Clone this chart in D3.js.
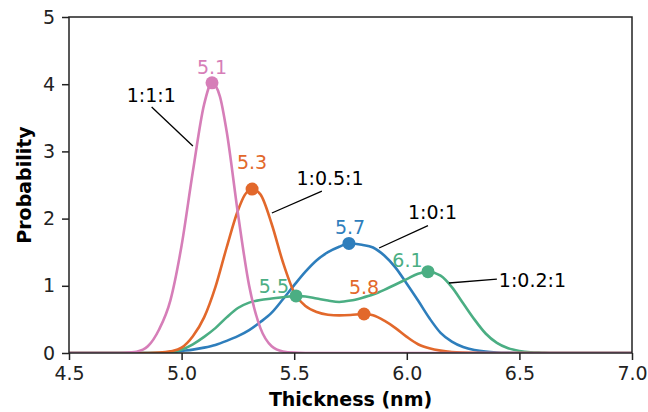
<!DOCTYPE html>
<html>
<head>
<meta charset="utf-8">
<script src="https://cdn.jsdelivr.net/npm/d3@7"></script>
<style>
  html, body { margin: 0; padding: 0; background: #ffffff; }
  svg { display: block; }
  text { font-family: "DejaVu Sans", sans-serif; }
</style>
</head>
<body>
<svg id="chart" width="648" height="412"></svg>
<script>
// ---------------- data ----------------
const xTicks = [4.5, 5.0, 5.5, 6.0, 6.5, 7.0];
const yTicks = [0, 1, 2, 3, 4, 5];

// 1:1:1
const pinkX = [4.5, 4.70, 4.75, 4.80, 4.85, 4.90, 4.95, 5.00, 5.05, 5.10, 5.135, 5.17, 5.20, 5.25, 5.30, 5.35, 5.40, 5.45, 5.50, 5.55, 5.60, 7.0];
const pinkY = [0, 0, 0.004, 0.02, 0.10, 0.35, 0.78, 1.60, 2.70, 3.70, 4.02, 3.82, 3.30, 2.08, 1.00, 0.37, 0.10, 0.023, 0.005, 0.001, 0, 0];

// 1:0.5:1
const orangeX = [4.5, 4.85, 4.90, 4.95, 5.00, 5.05, 5.10, 5.15, 5.20, 5.25, 5.28, 5.313, 5.35, 5.40, 5.45, 5.50, 5.55, 5.60, 5.65, 5.70, 5.75, 5.81, 5.85, 5.90, 5.95, 6.00, 6.05, 6.10, 6.15, 6.20, 6.25, 6.30, 6.35, 7.0];
const orangeY = [0, 0, 0.005, 0.025, 0.08, 0.25, 0.53, 0.98, 1.57, 2.12, 2.35, 2.44, 2.36, 1.92, 1.35, 0.90, 0.70, 0.61, 0.57, 0.56, 0.565, 0.58, 0.56, 0.48, 0.37, 0.24, 0.13, 0.07, 0.035, 0.015, 0.006, 0.002, 0, 0];

// 1:0:1
const blueX = [4.5, 4.90, 4.95, 5.00, 5.05, 5.10, 5.15, 5.20, 5.25, 5.30, 5.35, 5.40, 5.45, 5.50, 5.55, 5.60, 5.65, 5.70, 5.743, 5.80, 5.85, 5.90, 5.95, 6.00, 6.05, 6.10, 6.15, 6.20, 6.25, 6.30, 6.35, 6.40, 6.45, 6.50, 7.0];
const blueY = [0, 0, 0.01, 0.03, 0.05, 0.08, 0.12, 0.18, 0.25, 0.34, 0.46, 0.60, 0.80, 1.01, 1.21, 1.38, 1.50, 1.58, 1.63, 1.61, 1.57, 1.45, 1.27, 1.03, 0.78, 0.52, 0.30, 0.17, 0.09, 0.045, 0.02, 0.008, 0.003, 0.001, 0];

// 1:0.2:1
const greenX = [4.5, 4.90, 4.95, 5.00, 5.05, 5.10, 5.15, 5.20, 5.25, 5.30, 5.35, 5.40, 5.45, 5.508, 5.55, 5.60, 5.65, 5.70, 5.75, 5.80, 5.85, 5.90, 5.95, 6.00, 6.05, 6.094, 6.15, 6.20, 6.25, 6.30, 6.35, 6.40, 6.45, 6.50, 6.55, 6.60, 6.65, 7.0];
const greenY = [0, 0, 0.01, 0.05, 0.13, 0.24, 0.37, 0.53, 0.67, 0.75, 0.79, 0.81, 0.83, 0.85, 0.84, 0.81, 0.78, 0.76, 0.78, 0.82, 0.87, 0.94, 1.02, 1.10, 1.18, 1.21, 1.15, 0.98, 0.74, 0.50, 0.29, 0.15, 0.07, 0.03, 0.01, 0.004, 0, 0];

const seriesNames = ["1:1:1", "1:0.5:1", "1:0:1", "1:0.2:1"];
const seriesColors = ["#d67eb8", "#e2682b", "#2e7ebc", "#4bae83"];
const seriesXs = [pinkX, orangeX, blueX, greenX];
const seriesYs = [pinkY, orangeY, blueY, greenY];

// peak markers: series index, thickness, probability, label, label position (data units)
const peakSeries = [0, 1, 2, 3, 1, 3];
const peakX = [5.135, 5.313, 5.743, 6.094, 5.81, 5.508];
const peakY = [4.02, 2.44, 1.63, 1.21, 0.58, 0.85];
const peakLabels = ["5.1", "5.3", "5.7", "6.1", "5.8", "5.5"];
const peakLabelX = [5.135, 5.313, 5.748, 6.003, 5.81, 5.41];
const peakLabelY = [4.15, 2.74, 1.77, 1.28, 0.88, 0.89];

// ratio annotations (data units): text centre/baseline and leader line
const annText = ["1:1:1", "1:0.5:1", "1:0:1", "1:0.2:1"];
const annTextX = [4.865, 5.659, 6.114, 6.558];
const annTextY = [3.735, 2.50, 1.994, 0.982];
const annLineX1 = [4.867, 5.623, 6.094, 6.400];
const annLineY1 = [3.66, 2.41, 1.896, 1.10];
const annLineX2 = [5.05, 5.401, 5.877, 6.187];
const annLineY2 = [3.08, 2.083, 1.5625, 1.042];

// ---------------- drawing ----------------
const W = 648, H = 412;
const margin = {top: 17, right: 16, bottom: 59, left: 69};
const svg = d3.select("#chart");
const g = svg.append("g").attr("transform", `translate(${margin.left},${margin.top})`);
const iw = W - margin.left - margin.right;
const ih = H - margin.top - margin.bottom;

const x = d3.scaleLinear().domain([4.5, 7.0]).range([0, iw]);
const y = d3.scaleLinear().domain([0, 5]).range([ih, 0]);

const line = d3.line().x(d => x(d[0])).y(d => y(d[1])).curve(d3.curveMonotoneX);

g.append("clipPath").attr("id", "clip").append("rect")
  .attr("x", 0).attr("y", -10).attr("width", iw).attr("height", ih + 10);

const order = [2, 3, 1, 0];
order.forEach(i => {
  const pts = seriesXs[i].map((v, k) => [v, seriesYs[i][k]]);
  g.append("path")
    .datum(pts)
    .attr("d", line)
    .attr("fill", "none")
    .attr("stroke", seriesColors[i])
    .attr("stroke-width", 2.6)
    .attr("stroke-linejoin", "round")
    .attr("clip-path", "url(#clip)");
});

// markers
peakX.forEach((px, k) => {
  g.append("circle")
    .attr("cx", x(px)).attr("cy", y(peakY[k]))
    .attr("r", 6.5)
    .attr("fill", seriesColors[peakSeries[k]]);
  g.append("text")
    .attr("x", x(peakLabelX[k])).attr("y", y(peakLabelY[k]))
    .attr("text-anchor", "middle")
    .attr("font-size", 19)
    .attr("fill", seriesColors[peakSeries[k]])
    .text(peakLabels[k]);
});

// ratio annotations
annText.forEach((t, k) => {
  g.append("line")
    .attr("x1", x(annLineX1[k])).attr("y1", y(annLineY1[k]))
    .attr("x2", x(annLineX2[k])).attr("y2", y(annLineY2[k]))
    .attr("stroke", "#000").attr("stroke-width", 1.3);
  g.append("text")
    .attr("x", x(annTextX[k])).attr("y", y(annTextY[k]))
    .attr("text-anchor", "middle")
    .attr("font-size", 19)
    .attr("fill", "#000")
    .text(t);
});

// axes
const xAxis = g.append("g").attr("transform", `translate(0,${ih})`)
  .call(d3.axisBottom(x).tickValues(xTicks).tickFormat(d3.format(".1f")).tickSize(7).tickPadding(7));
const yAxis = g.append("g")
  .call(d3.axisLeft(y).tickValues(yTicks).tickFormat(d3.format("d")).tickSize(7).tickPadding(7));
[xAxis, yAxis].forEach(a => {
  a.select(".domain").remove();
  a.selectAll(".tick line").attr("stroke", "#222").attr("stroke-width", 1.5);
  a.selectAll(".tick text").attr("font-size", 19).attr("fill", "#222")
    .attr("font-family", "DejaVu Sans, sans-serif");
});

// frame
g.append("rect").attr("x", 0).attr("y", 0).attr("width", iw).attr("height", ih)
  .attr("fill", "none").attr("stroke", "#222").attr("stroke-width", 1.5);

// axis titles
svg.append("text")
  .attr("x", margin.left + iw / 2).attr("y", 406)
  .attr("text-anchor", "middle").attr("font-size", 19).attr("font-weight", "bold")
  .attr("fill", "#000")
  .text("Thickness (nm)");
svg.append("text")
  .attr("transform", `translate(31,${margin.top + ih / 2}) rotate(-90)`)
  .attr("text-anchor", "middle").attr("font-size", 19).attr("font-weight", "bold")
  .attr("fill", "#000")
  .text("Probability");
</script>
</body>
</html>
